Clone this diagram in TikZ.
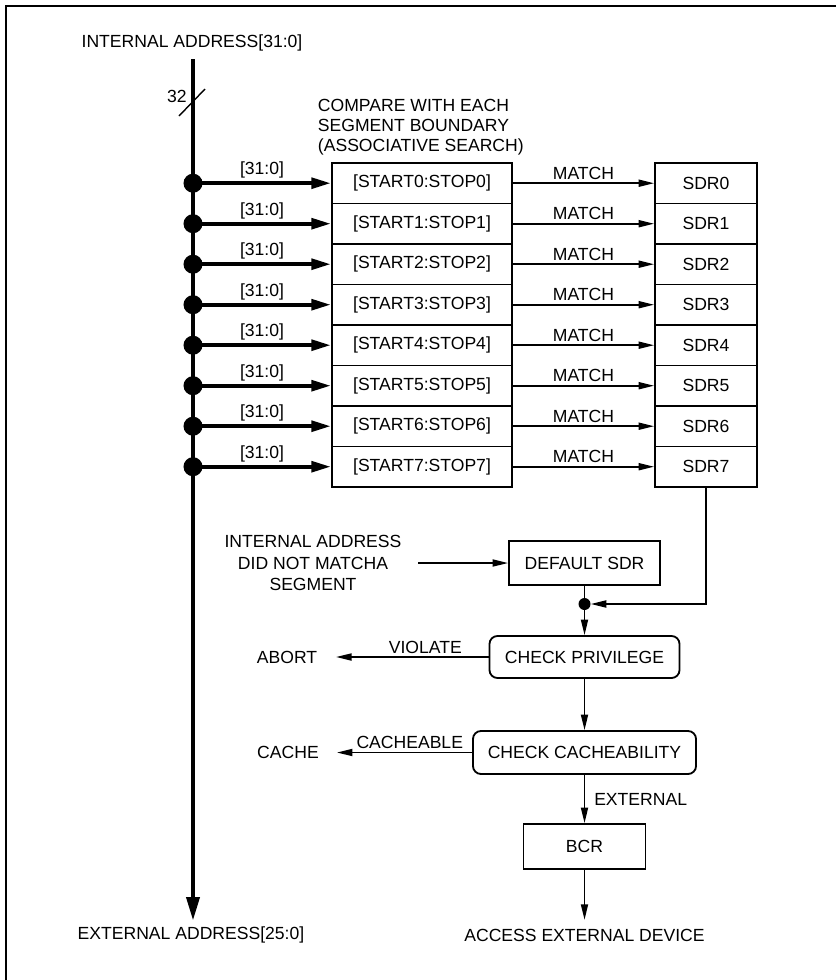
\documentclass[tikz,border=0pt]{standalone}
\usepackage{fontspec}
\setmainfont{Liberation Sans}
\usetikzlibrary{arrows.meta}

\begin{document}
\begin{tikzpicture}[x=0.025cm, y=-0.025cm,
  every node/.style={font=\fontsize{12.5}{15}\selectfont},
  box/.style={draw, line width=1.3pt, minimum height=1.0125cm, inner sep=0pt},
  cmp/.style={box, minimum width=4.5cm},
  sdr/.style={box, minimum width=2.55cm},
  chk/.style={draw, line width=1.3pt, rounded corners=0.2cm, inner sep=0pt},
  dot/.style={circle, fill, inner sep=0pt, minimum size=0.475cm},
  bus/.style={line width=3.2pt, -{Triangle[length=17pt, width=9pt]}},
  tap/.style={line width=2.8pt, -{Triangle[length=14pt, width=7.5pt]}},
  flow/.style={line width=1.2pt, -{Triangle[length=11pt, width=5pt]}},
  lbl/.style={midway, above, inner sep=2pt}
]
\useasboundingbox (0,0) rectangle (836,980);
\draw[line width=1pt] (836,6) -- (6,6) -- (6,980);

% address bus
\node (intaddr) at (192,43) {INTERNAL ADDRESS[31:0]};
\node (extaddr) at (191,935) {EXTERNAL ADDRESS[25:0]};
\coordinate (bustop) at (193,59);
\coordinate (busend) at (193,921);
\draw[bus] (bustop) -- (busend);
\draw[line width=1pt] (179,116) -- (205,89);
\node (buswidth) at (177,96) {32};

\node[anchor=west, align=left, font=\fontsize{12.5}{14.3}\selectfont] (cmphead) at (313,127)
  {COMPARE WITH EACH\\SEGMENT BOUNDARY\\(ASSOCIATIVE SEARCH)};

% segment rows
\node[dot] (d0) at (193,183.2) {}; \node[cmp] (c0) at (422,183.2) {[START0:STOP0]}; \node[sdr] (s0) at (706,183.2) {SDR0};
\node[dot] (d1) at (193,223.7) {}; \node[cmp] (c1) at (422,223.7) {[START1:STOP1]}; \node[sdr] (s1) at (706,223.7) {SDR1};
\node[dot] (d2) at (193,264.2) {}; \node[cmp] (c2) at (422,264.2) {[START2:STOP2]}; \node[sdr] (s2) at (706,264.2) {SDR2};
\node[dot] (d3) at (193,304.7) {}; \node[cmp] (c3) at (422,304.7) {[START3:STOP3]}; \node[sdr] (s3) at (706,304.7) {SDR3};
\node[dot] (d4) at (193,345.2) {}; \node[cmp] (c4) at (422,345.2) {[START4:STOP4]}; \node[sdr] (s4) at (706,345.2) {SDR4};
\node[dot] (d5) at (193,385.7) {}; \node[cmp] (c5) at (422,385.7) {[START5:STOP5]}; \node[sdr] (s5) at (706,385.7) {SDR5};
\node[dot] (d6) at (193,426.2) {}; \node[cmp] (c6) at (422,426.2) {[START6:STOP6]}; \node[sdr] (s6) at (706,426.2) {SDR6};
\node[dot] (d7) at (193,466.7) {}; \node[cmp] (c7) at (422,466.7) {[START7:STOP7]}; \node[sdr] (s7) at (706,466.7) {SDR7};

\draw[tap] (d0.center) -- (c0) node[lbl]{[31:0]};  \draw[flow] (c0) -- (s0) node[lbl]{MATCH};
\draw[tap] (d1.center) -- (c1) node[lbl]{[31:0]};  \draw[flow] (c1) -- (s1) node[lbl]{MATCH};
\draw[tap] (d2.center) -- (c2) node[lbl]{[31:0]};  \draw[flow] (c2) -- (s2) node[lbl]{MATCH};
\draw[tap] (d3.center) -- (c3) node[lbl]{[31:0]};  \draw[flow] (c3) -- (s3) node[lbl]{MATCH};
\draw[tap] (d4.center) -- (c4) node[lbl]{[31:0]};  \draw[flow] (c4) -- (s4) node[lbl]{MATCH};
\draw[tap] (d5.center) -- (c5) node[lbl]{[31:0]};  \draw[flow] (c5) -- (s5) node[lbl]{MATCH};
\draw[tap] (d6.center) -- (c6) node[lbl]{[31:0]};  \draw[flow] (c6) -- (s6) node[lbl]{MATCH};
\draw[tap] (d7.center) -- (c7) node[lbl]{[31:0]};  \draw[flow] (c7) -- (s7) node[lbl]{MATCH};

% default and checks
\node[box, minimum width=3.775cm, minimum height=1.1cm] (dflt) at (584.5,563) {DEFAULT SDR};
\node[align=center] (nomatch) at (313,563) {INTERNAL ADDRESS\\DID NOT MATCHA\\SEGMENT};
\draw[flow, shorten <=0.3cm] (nomatch) -- (dflt);
\node[dot, minimum size=0.3cm] (join) at (584.5,604) {};
\draw[line width=1.2pt] (dflt) -- (join);
\draw[flow] (s7) |- (join);

\node[chk, minimum width=4.75cm, minimum height=1.05cm] (priv) at (584.5,657) {CHECK PRIVILEGE};
\draw[flow] (join) -- (priv);
\node (abort) at (287,657) {ABORT};
\draw[flow, shorten >=0.35cm] (priv) -- (abort) node[lbl, pos=0.38]{VIOLATE};

\node[chk, minimum width=5.575cm, minimum height=1.075cm] (cach) at (584.5,752.5) {CHECK CACHEABILITY};
\draw[flow] (priv) -- (cach);
\node (cache) at (288,752.5) {CACHE};
\draw[flow, shorten >=0.33cm] (cach) -- (cache) node[lbl, pos=0.42]{CACHEABLE};

\node[box, minimum width=3.05cm, minimum height=1.125cm] (bcr) at (584.5,846.5) {BCR};
\draw[flow] (cach) -- (bcr) node[midway, right=3pt]{EXTERNAL};
\node (access) at (584.5,935) {ACCESS EXTERNAL DEVICE};
\draw[flow, shorten >=0.1cm] (bcr) -- (access);
\end{tikzpicture}
\end{document}
